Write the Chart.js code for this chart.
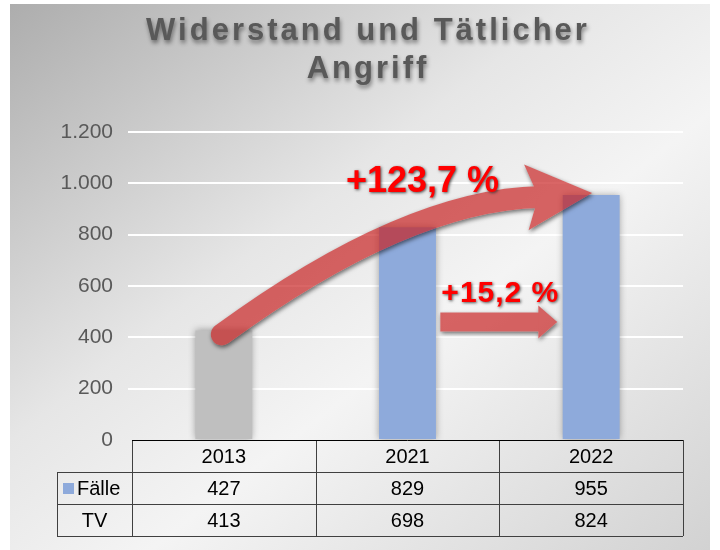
<!DOCTYPE html>
<html>
<head>
<meta charset="utf-8">
<script src="https://cdn.jsdelivr.net/npm/chart.js@4"></script>
<style>
  body { margin: 0; background: #fff; }
  #wrap { position: relative; width: 720px; height: 550px; }
  #bg {
    position: absolute; left: 10px; top: 4px; width: 700px; height: 546px;
    background: linear-gradient(to bottom right, #adadad 0%, #e6e6e6 40%, #f4f4f4 60%, #d2d2d2 100%);
  }
  canvas { position: absolute; left: 0; top: 0; }
</style>
</head>
<body>
<div id="wrap">
  <div id="bg"></div>
  <canvas id="chart" width="720" height="550"></canvas>
</div>
<script>
const titleLines = ["Widerstand und Tätlicher", "Angriff"];
const years = ["2013", "2021", "2022"];
const faelle = [427, 829, 955];
const tv = [413, 698, 824];
const barColors = ["#bfbfbf", "#8eaadb", "#8eaadb"];
const labelTotal = "+123,7 %";
const labelLast = "+15,2 %";

const FONT = "'Liberation Sans', Arial, sans-serif";

function deFormat(v) {
  return String(v).replace(/\B(?=(\d{3})+(?!\d))/g, ".");
}

// soft shadow behind the bars
const barShadow = {
  id: "barShadow",
  beforeDatasetDraw(chart) {
    const ctx = chart.ctx;
    ctx.save();
    ctx.shadowColor = "rgba(0,0,0,0.35)";
    ctx.shadowBlur = 7;
  },
  afterDatasetDraw(chart) {
    chart.ctx.restore();
  }
};

const titlePlugin = {
  id: "titlePlugin",
  afterDraw(chart) {
    const ctx = chart.ctx;
    ctx.save();
    ctx.font = "bold 31px " + FONT;
    ctx.letterSpacing = "3px";
    ctx.textAlign = "center";
    ctx.fillStyle = "#595959";
    ctx.shadowColor = "rgba(0,0,0,0.45)";
    ctx.shadowBlur = 4;
    ctx.shadowOffsetX = 1;
    ctx.shadowOffsetY = 3;
    ctx.fillText(titleLines[0], 368, 40);
    ctx.fillText(titleLines[1], 368, 78);
    ctx.restore();
  }
};

// data table under the plot
const tablePlugin = {
  id: "tablePlugin",
  afterDraw(chart) {
    const ctx = chart.ctx;
    const area = chart.chartArea;
    const xs = chart.scales.x;
    const n = years.length;
    const colW = (area.right - area.left) / n;
    const rowH = 32;
    const top = area.bottom;
    const leftEdge = 57;
    ctx.save();
    ctx.lineWidth = 1;
    ctx.strokeStyle = "#404040";
    for (let i = 0; i <= n; i++) {
      const x = Math.round(area.left + i * colW) + 0.5;
      ctx.beginPath();
      ctx.moveTo(x, top);
      ctx.lineTo(x, top + rowH * 3);
      ctx.stroke();
    }
    ctx.beginPath();
    ctx.moveTo(leftEdge + 0.5, top + rowH);
    ctx.lineTo(leftEdge + 0.5, top + rowH * 3);
    ctx.stroke();
    for (let r = 1; r <= 3; r++) {
      const y = Math.round(top + r * rowH) + 0.5;
      ctx.beginPath();
      ctx.moveTo(leftEdge, y);
      ctx.lineTo(area.right, y);
      ctx.stroke();
    }
    ctx.strokeStyle = "#000";
    ctx.beginPath();
    ctx.moveTo(area.left, Math.round(top) + 0.5);
    ctx.lineTo(area.right, Math.round(top) + 0.5);
    ctx.stroke();

    ctx.font = "20px " + FONT;
    ctx.fillStyle = "#000";
    ctx.textAlign = "center";
    ctx.textBaseline = "middle";
    for (let i = 0; i < n; i++) {
      const x = xs.getPixelForValue(i);
      ctx.fillText(years[i], x, top + rowH * 0.5 + 1);
      ctx.fillText(String(faelle[i]), x, top + rowH * 1.5 + 1);
      ctx.fillText(String(tv[i]), x, top + rowH * 2.5 + 1);
    }
    ctx.fillText("TV", (leftEdge + area.left) / 2, top + rowH * 2.5 + 1);
    ctx.fillStyle = barColors[1];
    ctx.fillRect(63, top + rowH * 1.5 - 5, 11, 11);
    ctx.fillStyle = "#000";
    ctx.textAlign = "left";
    ctx.fillText("Fälle", 77, top + rowH * 1.5 + 1);
    ctx.restore();
  }
};

// red arrows with growth labels
const arrowPlugin = {
  id: "arrowPlugin",
  afterDatasetsDraw(chart) {
    const ctx = chart.ctx;
    const xs = chart.scales.x;
    const ys = chart.scales.y;
    const x0 = xs.getPixelForValue(0), y0 = ys.getPixelForValue(faelle[0]);
    const x1 = xs.getPixelForValue(1);
    const x2 = xs.getPixelForValue(2), y2 = ys.getPixelForValue(faelle[2]);
    const W = chart.width, H = chart.height;

    const off = document.createElement("canvas");
    off.width = W;
    off.height = H;
    const o = off.getContext("2d");
    o.fillStyle = "rgb(200,30,30)";
    o.strokeStyle = "rgb(200,30,30)";

    // curved arrow 2013 -> 2022
    const sx = x0 - 2, sy = y0 + 4;
    const tipX = x2 + 1, tipY = y2 - 2;
    const ex = tipX - 52, ey = tipY + 4;
    o.lineWidth = 22;
    o.lineCap = "round";
    o.beginPath();
    o.moveTo(sx, sy);
    o.quadraticCurveTo(x1 - 2, y2 + 5, ex, ey);
    o.stroke();
    const ang = Math.atan2(-4.5, 66);
    const hl = 66, hw = 33;
    const bx = tipX - hl * Math.cos(ang), by = tipY - hl * Math.sin(ang);
    o.beginPath();
    o.moveTo(tipX, tipY);
    o.lineTo(bx + hw * Math.sin(ang), by - hw * Math.cos(ang));
    o.lineTo(bx + 12 * Math.cos(ang), by + 12 * Math.sin(ang));
    o.lineTo(bx - hw * Math.sin(ang), by + hw * Math.cos(ang));
    o.closePath();
    o.fill();

    // straight arrow 2021 -> 2022
    const ay = 322;
    const ax0 = (x1 + x2) / 2 - 59;
    const ax1 = (x1 + x2) / 2 + 58;
    o.fillRect(ax0, ay - 9.5, ax1 - ax0 - 17, 19);
    o.beginPath();
    o.moveTo(ax1, ay);
    o.lineTo(ax1 - 19, ay - 16.5);
    o.lineTo(ax1 - 19, ay + 16.5);
    o.closePath();
    o.fill();

    // halo only outside the shape
    const halo = document.createElement("canvas");
    halo.width = W;
    halo.height = H;
    const h = halo.getContext("2d");
    h.shadowColor = "rgba(0,0,0,0.55)";
    h.shadowBlur = 4;
    h.shadowOffsetX = 1 + 2000;
    h.shadowOffsetY = 2;
    h.drawImage(off, -2000, 0);
    h.shadowColor = "transparent";
    h.globalCompositeOperation = "destination-out";
    h.drawImage(off, 0, 0);

    ctx.save();
    ctx.drawImage(halo, 0, 0);
    ctx.globalAlpha = 0.68;
    ctx.drawImage(off, 0, 0);
    ctx.restore();

    ctx.save();
    ctx.fillStyle = "#ff0000";
    ctx.textAlign = "center";
    ctx.shadowColor = "rgba(40,40,40,0.8)";
    ctx.shadowBlur = 3;
    ctx.shadowOffsetX = 1;
    ctx.shadowOffsetY = 1;
    ctx.font = "bold 36px " + FONT;
    ctx.fillText(labelTotal, x1 + 15, y2 - 3);
    ctx.font = "bold 30px " + FONT;
    ctx.letterSpacing = "1px";
    ctx.fillText(labelLast, (x1 + x2) / 2 + 1, 302);
    ctx.restore();
  }
};

new Chart(document.getElementById("chart").getContext("2d"), {
  type: "bar",
  data: {
    labels: years,
    datasets: [
      {
        label: "Fälle",
        data: faelle,
        backgroundColor: barColors,
        barPercentage: 0.31,
        categoryPercentage: 1.0,
      },
    ],
  },
  options: {
    responsive: false,
    animation: false,
    layout: {
      padding: { left: 10, right: 37, top: 132, bottom: 110 },
    },
    plugins: {
      legend: { display: false },
      tooltip: { enabled: false },
      title: { display: false },
    },
    scales: {
      x: { display: false },
      y: {
        min: 0,
        max: 1200,
        afterFit: (scale) => { scale.width = 122; },
        border: { display: false },
        grid: {
          color: (c) => (c.tick && c.tick.value === 0 ? "rgba(0,0,0,0)" : "#ffffff"),
          lineWidth: 2,
          tickLength: 4,
        },
        ticks: {
          stepSize: 200,
          padding: 15,
          color: "#595959",
          font: { family: FONT, size: 21 },
          callback: (v) => deFormat(v),
        },
      },
    },
  },
  plugins: [barShadow, arrowPlugin, tablePlugin, titlePlugin],
});
</script>
</body>
</html>
